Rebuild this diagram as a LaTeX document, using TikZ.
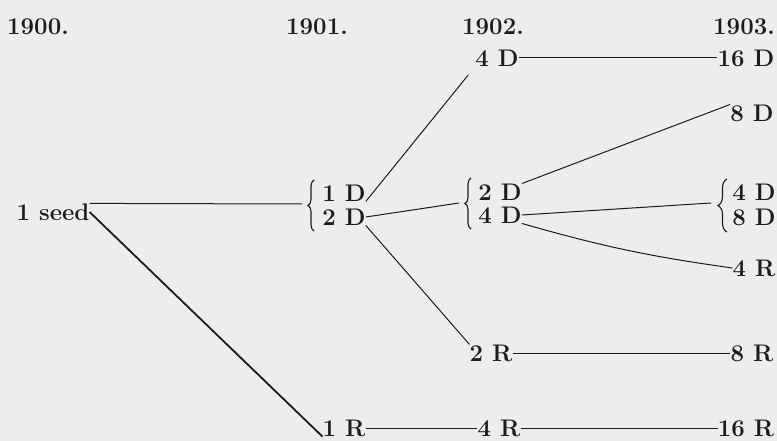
\documentclass[tikz,border=0pt]{standalone}
\usepackage{fontspec}
\usetikzlibrary{decorations.pathreplacing}
\definecolor{paper}{RGB}{237,237,235}
\definecolor{ink}{RGB}{28,28,28}
\tikzset{
  lab/.style={font=\fontsize{24}{26}\selectfont\bfseries, text=ink, inner sep=0pt},
  link/.style={draw=ink, line width=1pt},
  curly/.style={draw=ink, line width=1.1pt, decorate, decoration={brace, amplitude=#1}},
  curly/.default=6pt,
}
\begin{document}
\begin{tikzpicture}[x=1pt,y=-1pt]
\fill [paper] (0,0) rectangle (777,441);
\useasboundingbox (0,0) rectangle (777,441);
% years
\node (y1900) at (38,27) [lab] {1900.};
\node (y1901) at (317,27) [lab] {1901.};
\node (y1902) at (493,27) [lab] {1902.};
\node (y1903) at (744,27) [lab] {1903.};
% 1900
\node (seed) at (53,212) [lab] {1 seed};
% 1901
\node (a1D) at (344,193) [lab] {1 D};
\node (a2D) at (344,217) [lab] {2 D};
\node (a1R) at (344,428) [lab] {1 R};
\draw [curly] (314,231) -- (314,180);
\coordinate (abr) at (302,204);
% 1902
\node (b4Dtop) at (497,58) [lab] {4 D};
\node (b2D) at (500,192) [lab] {2 D};
\node (b4D) at (500,215) [lab] {4 D};
\node (b2R) at (491,353) [lab] {2 R};
\node (b4R) at (499,428) [lab] {4 R};
\draw [curly] (471,229) -- (471,178);
\coordinate (bbr) at (459,203);
% 1903
\node (c16D) at (746,58) [lab] {16 D};
\node (c8Dtop) at (752,113) [lab] {8 D};
\node (c4D) at (754,192) [lab] {4 D};
\node (c8D) at (754,217) [lab] {8 D};
\node (c4R) at (754,268) [lab] {4 R};
\node (c8R) at (752,353) [lab] {8 R};
\node (c16R) at (746,428) [lab] {16 R};
\draw [curly=9pt] (727,232) -- (727,179);
\coordinate (cbr) at (711,203);
% lines
\draw [link] (seed.north east) -- (abr);
\draw [link, line width=1.8pt] (seed.east) -- (a1R.south west);
\draw [link, shorten >=11pt] (a1D.south east) -- (b4Dtop.south west);
\draw [link] (a2D.east) -- (bbr);
\draw [link] (a2D.south east) -- (b2R.north west);
\draw [link] (a1R.east) -- (b4R.west);
\draw [link] (b4Dtop.east) -- (c16D.west);
\draw [link] (b2D.north east) -- (c8Dtop.north west);
\draw [link] (b4D.east) -- (cbr);
\draw [link] (b4D.south east) to [bend right=4] (c4R.west);
\draw [link] (b2R.east) -- (c8R.west);
\draw [link] (b4R.east) -- (c16R.west);
\end{tikzpicture}
\end{document}
